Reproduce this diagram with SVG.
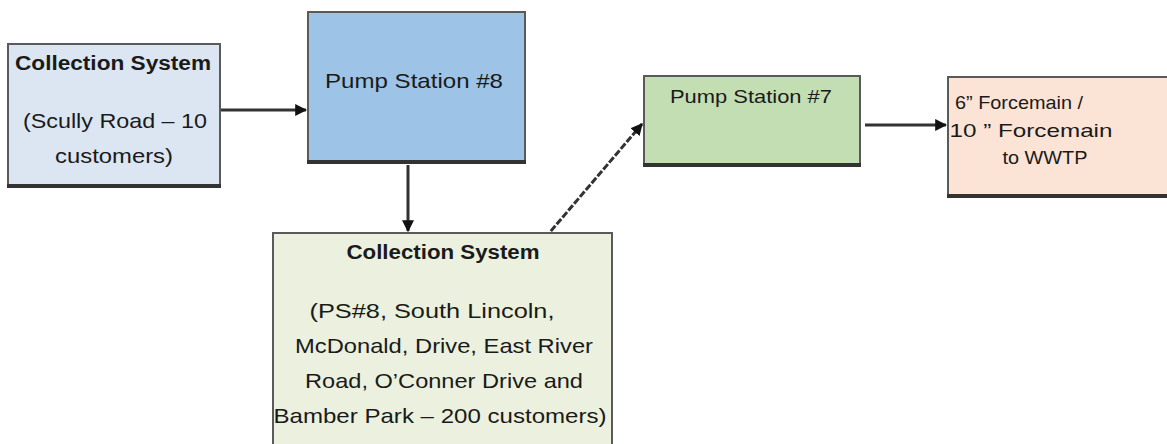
<svg xmlns="http://www.w3.org/2000/svg" width="1167" height="444" viewBox="0 0 1167 444">
  <defs>
    <marker id="head" viewBox="0 0 10 10" refX="9" refY="5" markerWidth="4" markerHeight="4" orient="auto" markerUnits="strokeWidth">
      <path d="M0,0 L10,5 L0,10 z" fill="#111"/>
    </marker>
    <style>
      .box { stroke: #5a5a5a; stroke-width: 2; }
      .base { stroke: #333; stroke-width: 4; }
      .t { font-family: "Liberation Sans", Arial, sans-serif; fill: #1a1a1a; text-anchor: middle; dominant-baseline: central; }
      .b { font-weight: bold; }
      .link { fill: none; stroke: #333; stroke-width: 3; marker-end: url(#head); }
    </style>
  </defs>
  <rect width="1167" height="444" fill="#fff"/>

  <g id="connectors">
    <line class="link" x1="221" y1="110" x2="306" y2="110"/>
    <line class="link" x1="408" y1="165" x2="408" y2="231"/>
    <line class="link" x1="545" y1="238" x2="642" y2="124" stroke-dasharray="7 2" stroke="#222"/>
    <line class="link" x1="865" y1="125" x2="946" y2="125" stroke="#777" stroke-width="4"/>
  </g>

  <g id="collection-scully">
    <rect class="box" x="8" y="44" width="212" height="142" fill="#dce6f2"/>
    <line class="base" x1="7" y1="186" x2="221" y2="186"/>
    <text class="t b" x="113" y="63" font-size="20" textLength="196" lengthAdjust="spacingAndGlyphs">Collection System</text>
    <text class="t" x="115" y="120" font-size="21" textLength="184" lengthAdjust="spacingAndGlyphs">(Scully Road – 10</text>
    <text class="t" x="114" y="155" font-size="21" textLength="118" lengthAdjust="spacingAndGlyphs">customers)</text>
  </g>

  <g id="pump-station-8">
    <rect class="box" x="308" y="12" width="217" height="150" fill="#9dc3e6"/>
    <line class="base" x1="307" y1="162" x2="526" y2="162"/>
    <text class="t" x="414" y="80" font-size="21" textLength="178" lengthAdjust="spacingAndGlyphs">Pump Station #8</text>
  </g>

  <g id="collection-ps8">
    <rect class="box" x="273" y="233" width="339" height="220" fill="#ebf1de" stroke="#333"/>
    <text class="t b" x="443" y="252" font-size="20" textLength="193" lengthAdjust="spacingAndGlyphs">Collection System</text>
    <text class="t" x="432" y="310" font-size="21" textLength="245" lengthAdjust="spacingAndGlyphs">(PS#8, South Lincoln,</text>
    <text class="t" x="444" y="345" font-size="21" textLength="298" lengthAdjust="spacingAndGlyphs">McDonald, Drive, East River</text>
    <text class="t" x="444" y="380" font-size="21" textLength="278" lengthAdjust="spacingAndGlyphs">Road, O’Conner Drive and</text>
    <text class="t" x="440" y="415" font-size="21" textLength="333" lengthAdjust="spacingAndGlyphs">Bamber Park – 200 customers)</text>
  </g>

  <g id="pump-station-7">
    <rect class="box" x="644" y="76" width="216" height="89" fill="#c3deb3"/>
    <line class="base" x1="643" y1="165" x2="861" y2="165"/>
    <text class="t" x="751" y="96" font-size="19" textLength="162" lengthAdjust="spacingAndGlyphs">Pump Station #7</text>
  </g>

  <g id="forcemain">
    <rect class="box" x="948" y="77" width="230" height="119" fill="#fbe4d5"/>
    <line class="base" x1="947" y1="196" x2="1170" y2="196" stroke="#111"/>
    <text class="t" x="1019" y="102" font-size="19" textLength="128" lengthAdjust="spacingAndGlyphs">6” Forcemain /</text>
    <text class="t" x="1031" y="130" font-size="19" textLength="163" lengthAdjust="spacingAndGlyphs">10 ” Forcemain</text>
    <text class="t" x="1045" y="157" font-size="19" textLength="85" lengthAdjust="spacingAndGlyphs">to WWTP</text>
  </g>
</svg>
